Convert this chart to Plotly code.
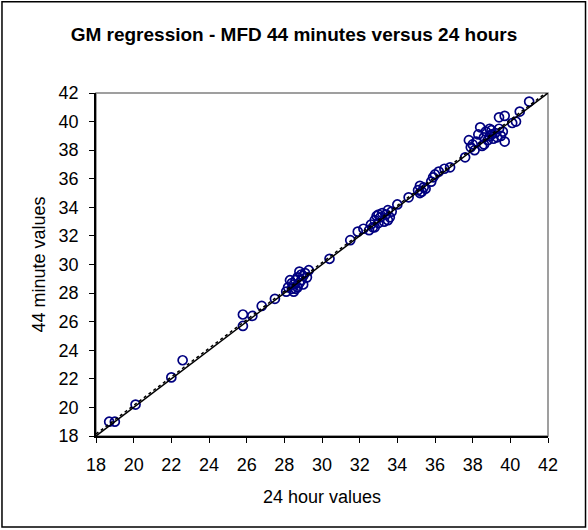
import numpy as np
import plotly.graph_objects as go

# MFD values: 24 hour readings and the matching 44 minute readings
hours24 = [
    18.7, 19.0, 20.1, 22.0, 22.6,
    25.8, 25.8, 26.3, 26.8, 27.5,
    28.1, 28.2, 28.3, 28.4, 28.5, 28.5, 28.6, 28.7, 28.7, 28.8,
    28.8, 28.9, 29.0, 29.0, 29.1, 29.2, 28.4, 28.6, 29.3, 28.9,
    30.4, 31.5, 31.9, 32.2,
    32.5, 32.6, 32.7, 32.8, 32.9, 33.0, 33.1, 33.2, 33.3, 33.4,
    33.5, 33.6, 33.7, 33.5, 33.0, 32.8,
    34.0, 34.6,
    35.1, 35.2, 35.3, 35.4, 35.5, 35.2,
    35.8, 35.9, 36.0, 36.2, 36.5, 36.8,
    37.6, 37.8, 37.9, 38.0,
    38.1, 38.2, 38.3, 38.4, 38.5, 38.6, 38.7, 38.8, 38.9, 39.0,
    39.1, 39.2, 39.3, 39.4, 39.5, 39.6, 39.7, 38.6, 39.0, 38.9,
    39.4, 39.7, 40.1, 40.3, 40.5, 41.0,
]
minutes44 = [
    19.0, 19.0, 20.2, 22.1, 23.3,
    25.7, 26.5, 26.4, 27.1, 27.6,
    28.1, 28.4, 28.9, 28.3, 28.6, 28.1, 28.9, 28.4, 29.1, 28.7,
    29.5, 28.9, 29.2, 28.6, 29.4, 29.1, 28.7, 28.3, 29.6, 29.3,
    30.4, 31.7, 32.3, 32.5,
    32.4, 32.8, 32.6, 33.1, 33.4, 32.9, 33.3, 33.6, 33.0, 33.5,
    33.8, 33.3, 33.7, 33.1, 33.5, 32.6,
    34.2, 34.7,
    35.2, 35.5, 35.1, 35.4, 35.3, 35.0,
    35.8, 36.1, 36.3, 36.5, 36.7, 36.8,
    37.5, 38.7, 38.2, 38.4,
    38.0, 38.6, 39.1, 39.6, 38.3, 38.9, 39.3, 38.7, 39.0, 39.4,
    38.8, 39.2, 38.9, 39.5, 39.0, 39.3, 38.6, 38.4, 39.1, 39.5,
    40.3, 40.4, 39.9, 40.0, 40.7, 41.4,
]
axis_ticks = list(range(18, 43, 2))

x = np.array(hours24)
y = np.array(minutes44)

# geometric mean (reduced major axis) regression
r = np.corrcoef(x, y)[0, 1]
slope = np.sign(r) * y.std() / x.std()
intercept = y.mean() - slope * x.mean()
lo, hi = axis_ticks[0], axis_ticks[-1]
fit_x = np.array([lo, hi])
fit_y = intercept + slope * fit_x

FONT = "Liberation Sans, Arial"

fig = go.Figure()
fig.add_trace(go.Scatter(
    x=hours24, y=minutes44, mode="markers",
    marker=dict(symbol="circle-open", size=9, color="#000080",
                line=dict(width=1.7, color="#000080")),
    hoverinfo="x+y", showlegend=False,
))
fig.add_trace(go.Scatter(
    x=fit_x, y=fit_y, mode="lines",
    line=dict(color="black", width=1.5, dash="dot"),
    showlegend=False, hoverinfo="skip",
))
fig.add_trace(go.Scatter(
    x=[lo, hi], y=[lo, hi], mode="lines",
    line=dict(color="black", width=1.5),
    showlegend=False, hoverinfo="skip",
))

axis_common = dict(
    range=[lo, hi], tickvals=axis_ticks, ticks="outside", ticklen=5,
    tickcolor="black", tickwidth=1, showline=True, linecolor="black",
    linewidth=1.5, showgrid=False, zeroline=False, ticklabelstandoff=7,
    tickfont=dict(family=FONT, size=18, color="black"),
    title_font=dict(family=FONT, size=18, color="black"),
)
fig.update_xaxes(title_text="24 hour values", title_standoff=16, **axis_common)
fig.update_yaxes(title_text="44 minute values", title_standoff=8, **axis_common)

# outer chart frame and grey plot-area border
fig.add_shape(type="rect", xref="paper", yref="paper",
              x0=-0.208, x1=1.083, y0=-0.265, y1=1.266,
              line=dict(color="black", width=1.5), layer="below")
fig.add_shape(type="rect", xref="paper", yref="paper",
              x0=0, x1=1, y0=0, y1=1,
              line=dict(color="#808080", width=1.5), layer="below")

fig.update_layout(
    width=588, height=530,
    margin=dict(l=96, r=40, t=93, b=94),
    paper_bgcolor="white", plot_bgcolor="white",
    title=dict(text="<b>GM regression - MFD 44 minutes versus 24 hours</b>",
               x=0.5, xanchor="center", y=0.936, yanchor="middle",
               font=dict(family=FONT, size=19, color="black")),
)

fig.write_html("out.html")
